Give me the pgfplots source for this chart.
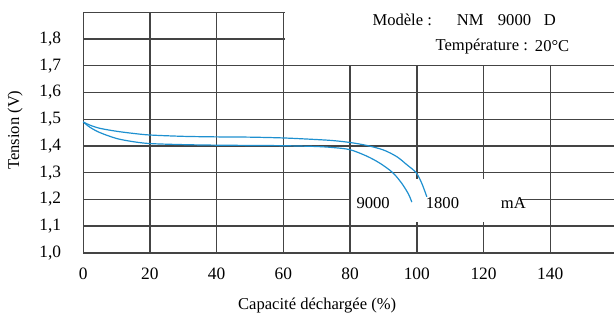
\documentclass[border=0pt]{standalone}
\usepackage{fontspec}
\setmainfont{Liberation Serif}
\usepackage{pgfplots}
\pgfplotsset{compat=1.18}
\definecolor{curve}{HTML}{1E90D0}
\definecolor{gridc}{HTML}{444444}
\newcommand{\lf}{\fontsize{8.3}{10}\selectfont}
\begin{document}
\begin{tikzpicture}
\begin{axis}[
 scale only axis, width=265.9pt, height=120.5pt,
 xmin=0, xmax=159.2, ymin=1.0, ymax=1.9,
 axis lines*=left, axis line style={gridc, line width=0.7pt},
 xtick={0,20,40,60,80,100,120,140},
 ytick={1.0,1.1,1.2,1.3,1.4,1.5,1.6,1.7,1.8,1.9},
 yticklabels={{1,0},{1,1},{1,2},{1,3},{1,4},{1,5},{1,6},{1,7},{1,8},{}},
 major tick length=0pt,
 grid=major, major grid style={gridc, line width=0.7pt},
 tick label style={font=\fontsize{8.7}{10}\selectfont},
 /pgf/number format/assume math mode=true,
 xticklabel style={yshift=-4pt},
 yticklabel style={xshift=-7.5pt},
 clip=false,
 xlabel={Capacité déchargée (\%)},
 ylabel={Tension (V)},
 x label style={at={(axis description cs:0.4405,-0.218)}, anchor=center, font=\lf},
 y label style={at={(axis description cs:-0.128,0.51)}, anchor=center, font=\lf},
]
\path (axis description cs:-0.1567,-0.2685) rectangle (axis description cs:1,1.051);
\fill[white] (axis cs:60.4,1.704) rectangle (axis cs:159.2,1.92);
\fill[white] (axis cs:80.3,1.117) rectangle (axis cs:131.2,1.277);
\addplot[curve, line width=0.6pt, smooth, tension=0.5] coordinates {
(0,1.49) (2,1.478) (5,1.466) (10,1.455) (15,1.447) (20,1.441) (30,1.436) (40,1.434) (50,1.433) (60,1.430) (70,1.424) (75,1.42) (80,1.413) (85,1.402) (90,1.385) (94,1.36) (97,1.33) (99.8,1.30) (101.5,1.26) (103,1.21)
};
\addplot[curve, line width=0.6pt, smooth, tension=0.5] coordinates {
(0,1.49) (2,1.47) (5,1.45) (10,1.428) (15,1.416) (20,1.409) (30,1.405) (40,1.403) (50,1.402) (60,1.401) (70,1.398) (75,1.394) (80,1.386) (85,1.362) (89,1.335) (92.8,1.30) (95.5,1.26) (97.5,1.22) (98.5,1.19)
};
\node[anchor=west, font=\lf, inner sep=0pt] at (axis cs:86.6,1.871) {Modèle :};
\node[anchor=west, font=\lf, inner sep=0pt] at (axis cs:111.9,1.871) {NM};
\node[anchor=west, font=\lf, inner sep=0pt] at (axis cs:124.2,1.871) {9000};
\node[anchor=west, font=\lf, inner sep=0pt] at (axis cs:138.0,1.871) {D};
\node[anchor=west, font=\lf, inner sep=0pt] at (axis cs:105.5,1.772) {Température :};
\node[anchor=west, font=\lf, inner sep=0pt] at (axis cs:135.3,1.772) {20°C};
\node[anchor=west, font=\lf, inner sep=0pt] at (axis cs:81.8,1.187) {9000};
\node[anchor=west, font=\lf, inner sep=0pt] at (axis cs:102.6,1.187) {1800};
\node[anchor=west, font=\lf, inner sep=0pt] at (axis cs:125.1,1.187) {mA};
\end{axis}
\end{tikzpicture}
\end{document}
